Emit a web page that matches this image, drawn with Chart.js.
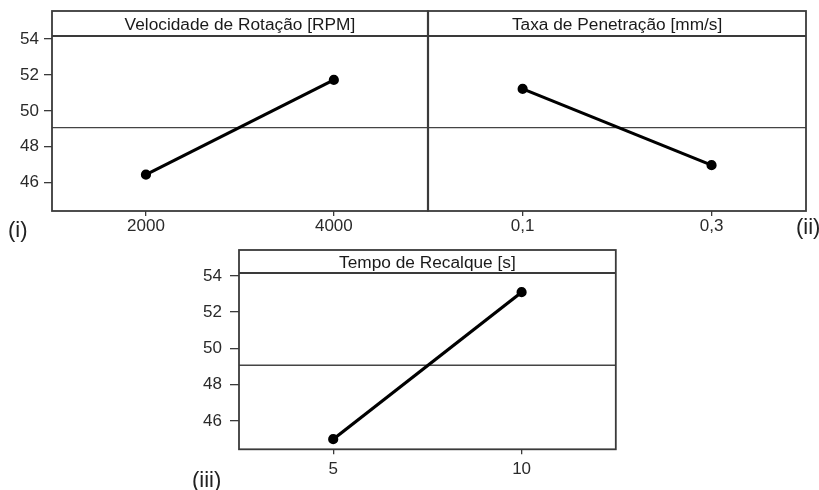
<!DOCTYPE html>
<html>
<head>
<meta charset="utf-8">
<script src="https://cdn.jsdelivr.net/npm/chart.js@4.4.1/dist/chart.umd.min.js"></script>
<style>
  body { margin: 0; background: #fff; }
  #wrap { position: relative; width: 819px; height: 490px; overflow: hidden; font-family: "Liberation Sans", Arial, sans-serif; }
  canvas { position: absolute; }
  .tag { position: absolute; font-size: 22px; color: #222; line-height: 1; }
</style>
</head>
<body>
<div id="wrap">
  <canvas id="c1" style="left:0;top:0" width="435" height="245"></canvas>
  <canvas id="c2" style="left:421px;top:0" width="398" height="245"></canvas>
  <canvas id="c3" style="left:180px;top:240px" width="443" height="250"></canvas>
  <div class="tag" style="left:8px;top:219px">(i)</div>
  <div class="tag" style="left:796px;top:216px">(ii)</div>
  <div class="tag" style="left:192px;top:469px">(iii)</div>
</div>
<script>
// factor levels and mean responses
const rpmLabels = ['2000', '4000']
const rpmMeans = [46.45, 51.72]
const rateLabels = ['0,1', '0,3']
const rateMeans = [51.22, 46.98]
const timeLabels = ['5', '10']
const timeMeans = [44.99, 53.10]
const grandMean = 49.07
const yTicks = [46, 48, 50, 52, 54]
const yMin = 44.43
const yMax = 54.16

Chart.defaults.font.family = '"Liberation Sans", Arial, sans-serif'
Chart.defaults.font.size = 17
Chart.defaults.color = '#2a2a2a'
Chart.defaults.animation = false

const frameColor = '#3a3a3a'

const panelPlugin = {
  id: 'panel',
  beforeDatasetsDraw(chart) {
    const { ctx, chartArea: a, scales: { y } } = chart
    const py = y.getPixelForValue(grandMean)
    ctx.save()
    ctx.strokeStyle = '#444'
    ctx.lineWidth = 1.3
    ctx.beginPath()
    ctx.moveTo(a.left, py)
    ctx.lineTo(a.right, py)
    ctx.stroke()
    ctx.restore()
  },
  afterDraw(chart, args, opts) {
    const { ctx, chartArea: a } = chart
    const top = a.top - opts.strip
    ctx.save()
    ctx.strokeStyle = frameColor
    ctx.lineWidth = 1.8
    ctx.strokeRect(a.left, top, a.right - a.left, a.bottom - top)
    ctx.beginPath()
    ctx.moveTo(a.left, a.top)
    ctx.lineTo(a.right, a.top)
    ctx.stroke()
    ctx.fillStyle = '#1a1a1a'
    ctx.font = '17.3px "Liberation Sans", Arial, sans-serif'
    ctx.textAlign = 'center'
    ctx.textBaseline = 'middle'
    ctx.fillText(opts.title, (a.left + a.right) / 2, top + opts.strip / 2 + 1.5)
    ctx.restore()
  }
}

function makePanel(id, labels, values, title, o) {
  return new Chart(document.getElementById(id), {
    type: 'line',
    data: {
      labels: labels,
      datasets: [{
        data: values,
        borderColor: '#000',
        backgroundColor: '#000',
        borderWidth: 3.2,
        pointRadius: 3.5,
        pointBackgroundColor: '#000',
        tension: 0
      }]
    },
    options: {
      responsive: false,
      layout: { padding: { top: o.top, right: o.right, left: o.left || 0, bottom: 0 } },
      plugins: {
        legend: { display: false },
        tooltip: { enabled: false },
        panel: { title: title, strip: o.strip }
      },
      scales: {
        x: {
          type: 'category',
          offset: true,
          grid: { offset: false, drawOnChartArea: false, tickLength: 5, color: frameColor, lineWidth: 1.3 },
          border: { display: false },
          ticks: { padding: o.xpad },
          afterFit(s) { s.height = o.xh }
        },
        y: {
          display: o.showY,
          min: yMin,
          max: yMax,
          afterBuildTicks(s) { s.ticks = yTicks.map(v => ({ value: v })) },
          grid: { drawOnChartArea: false, tickLength: o.ytick || 8, color: frameColor, lineWidth: 1.3 },
          border: { display: false },
          ticks: { padding: o.ypad || 4 },
          afterFit(s) { s.width = o.yw }
        }
      }
    },
    plugins: [panelPlugin]
  })
}

makePanel('c1', rpmLabels, rpmMeans, 'Velocidade de Rotação [RPM]',
  { top: 36, right: 2, strip: 25, xh: 34, xpad: 0, yw: 52, ytick: 8, ypad: 5, showY: true })
makePanel('c2', rateLabels, rateMeans, 'Taxa de Penetração [mm/s]',
  { top: 36, right: 13, left: 2, strip: 25, xh: 34, xpad: 0, yw: 0, showY: false })
makePanel('c3', timeLabels, timeMeans, 'Tempo de Recalque [s]',
  { top: 33, right: 4, strip: 23, xh: 40.7, xpad: 5, yw: 59, ytick: 9, ypad: 8, showY: true })
</script>
</body>
</html>
